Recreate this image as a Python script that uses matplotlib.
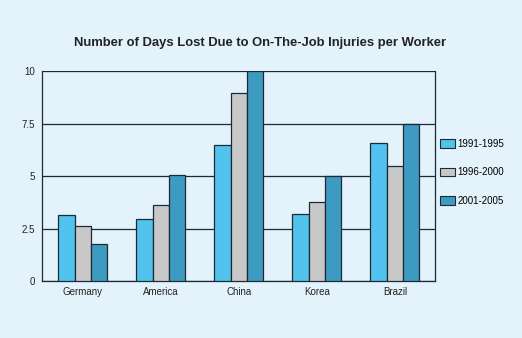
import numpy as np
import matplotlib.pyplot as plt
from matplotlib.patches import Patch

plt.rcParams['font.family'] = ['Liberation Sans', 'DejaVu Sans']

countries = ['Germany', 'America', 'China', 'Korea', 'Brazil']
periods = ['1991-1995', '1996-2000', '2001-2005']
v_1991 = [3.15, 2.95, 6.5, 3.2, 6.6]
v_1996 = [2.65, 3.65, 8.95, 3.8, 5.5]
v_2001 = [1.8, 5.05, 10.0, 5.0, 7.5]
yticks = [0, 2.5, 5, 7.5, 10]
ylabels = ['0', '2.5', '5', '7.5', '10']

bg = '#e4f2fc'
colors = ['#52c3ef', '#c8c8c8', '#3d9bc1']
edge = '#1b2a33'

fig = plt.figure(figsize=(5.22, 3.38), dpi=100, facecolor=bg)
ax = fig.add_axes([42.3/522, 1 - 281.3/338, 393/522, 210/338])
ax.set_facecolor(bg)

x = np.arange(len(countries))
w = 0.209
for i, vals in enumerate([v_1991, v_1996, v_2001]):
    ax.bar(x + (i - 1)*w, vals, w, color=colors[i], edgecolor=edge,
           linewidth=0.9, zorder=3, label=periods[i])

ax.set_xlim(-0.519, 4.519)
ax.set_ylim(0, 10)
ax.set_yticks(yticks)
ax.set_yticklabels(ylabels)
ax.set_xticks(x)
ax.set_xticklabels(countries)
ax.tick_params(length=0, labelsize=7, colors='#222222')
ax.tick_params(axis='y', pad=5)
ax.tick_params(axis='x', pad=4)
ax.grid(axis='y', color=edge, linewidth=0.9, zorder=0)
for s in ax.spines.values():
    s.set_color(edge)
    s.set_linewidth(0.9)
ax.spines['top'].set_visible(False)

fig.text(260/522, 1 - 43/338, 'Number of Days Lost Due to On-The-Job Injuries per Worker',
         ha='center', va='center', fontsize=9.4, fontweight='bold', color='#222222')

handles = [Patch(facecolor=c, edgecolor=edge, linewidth=0.8) for c in colors]
fig.legend(handles, periods, loc='upper left', bbox_to_anchor=(436/522, 1 - 135/338),
           frameon=False, fontsize=7, handlelength=1.6, handleheight=1.0,
           handletextpad=0.2, labelspacing=1.9, borderaxespad=0)

fig.savefig('out.png', dpi=100, facecolor=bg)
